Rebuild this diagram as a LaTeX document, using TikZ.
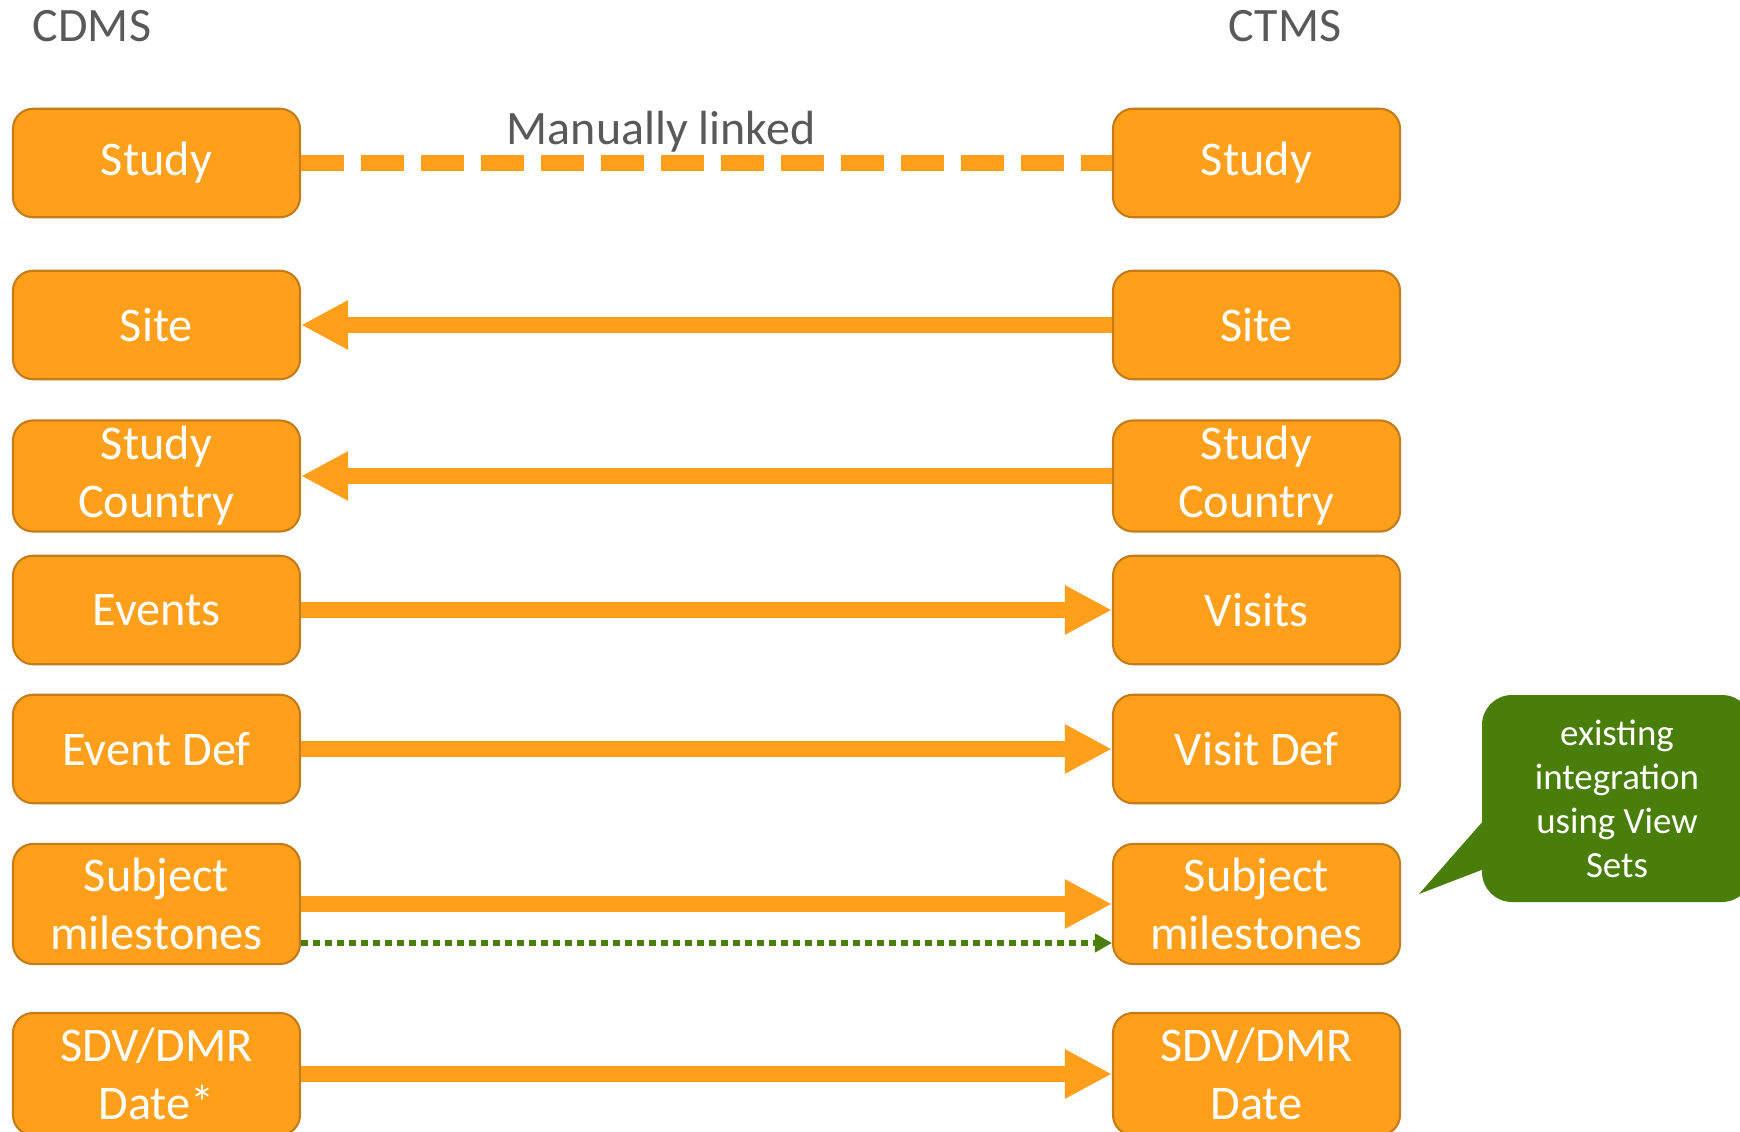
\documentclass[tikz,border=0pt]{standalone}
\usepackage{fontspec}
\setmainfont{Carlito}
\usepackage{tikz}
\usetikzlibrary{arrows.meta, positioning, calc}
\definecolor{boxorange}{RGB}{255,159,26}
\definecolor{boxedge}{RGB}{196,124,26}
\definecolor{notegreen}{RGB}{74,126,11}
\definecolor{labelgray}{RGB}{89,89,89}
\tikzstyle{entity} = [rectangle, rounded corners=0.4cm, minimum width=5.74cm, minimum height=2.17cm, text centered, align=center, draw=boxedge, line width=1.2pt, fill=boxorange, text=white, font=\fontsize{27.5}{33}\selectfont]
\tikzstyle{tallbox} = [minimum height=2.4cm]
\tikzstyle{flow} = [line width=0.32cm, draw=boxorange, -{Triangle[length=0.94cm,width=0.92cm]}]
\tikzstyle{linked} = [line width=0.32cm, draw=boxorange, dash pattern=on 0.86cm off 0.34cm]
\tikzstyle{viewset} = [line width=0.12cm, draw=notegreen, dash pattern=on 0.13cm off 0.11cm, -{Triangle[length=0.34cm,width=0.36cm]}]
\tikzstyle{system} = [text=labelgray, font=\fontsize{27.3}{30}\selectfont, anchor=base]
\tikzstyle{remark} = [rectangle, rounded corners=0.6cm, minimum width=5.4cm, minimum height=4.14cm, fill=notegreen, text=white, align=center, font=\fontsize{21}{25}\selectfont]

\begin{document}
\begin{tikzpicture}[node distance=22cm]
\useasboundingbox (0,0) rectangle (34.8,-22.64);
% system names
\node (cdms) [system] at (1.84,-0.84) {CDMS};
\node (ctms) [system] at (25.7,-0.84) {CTMS};

% CDMS side
\node (studyL) [entity] at (3.13,-3.26) {Study};
\node (siteL) [entity] at (3.13,-6.50) {Site};
\node (countryL) [entity] at (3.13,-9.52) {Study\\Country};
\node (eventsL) [entity] at (3.13,-12.20) {Events};
\node (eventdefL) [entity] at (3.13,-14.98) {Event Def};
\node (milestoneL) [entity, tallbox] at (3.13,-18.08) {Subject\\milestones};
\node (sdvL) [entity, minimum height=2.44cm] at (3.13,-21.48) {SDV/DMR\\Date*};

% CTMS side
\node (studyR) [entity, right of=studyL] {Study};
\node (siteR) [entity, right of=siteL] {Site};
\node (countryR) [entity, right of=countryL] {Study\\Country};
\node (visitsR) [entity, right of=eventsL] {Visits};
\node (visitdefR) [entity, right of=eventdefL] {Visit Def};
\node (milestoneR) [entity, tallbox, right of=milestoneL] {Subject\\milestones};
\node (sdvR) [entity, minimum height=2.44cm, right of=sdvL] {SDV/DMR\\Date};

% links
\draw [linked] (studyL) -- node[system, pos=0.444, yshift=0.36cm] {Manually linked} (studyR);
\draw [flow] (siteR) -- (siteL);
\draw [flow] (countryR) -- (countryL);
\draw [flow] (eventsL) -- (visitsR);
\draw [flow] (eventdefL) -- (visitdefR);
\draw [flow] (milestoneL) -- (milestoneR);
\draw [viewset] ([yshift=-0.78cm]milestoneL.east) -- ([yshift=-0.78cm]milestoneR.west);
\draw [flow] (sdvL) -- (sdvR);

% callout
\node (viewsets) [remark] at (32.34,-15.97) {existing\\integration\\using View\\Sets};
\coordinate (tip) at (28.38,-17.88);
\fill [notegreen] (tip) -- ([xshift=0.1cm, yshift=-0.37cm]viewsets.west) -- ([xshift=0.1cm, yshift=-1.39cm]viewsets.west) -- cycle;
\end{tikzpicture}
\end{document}
